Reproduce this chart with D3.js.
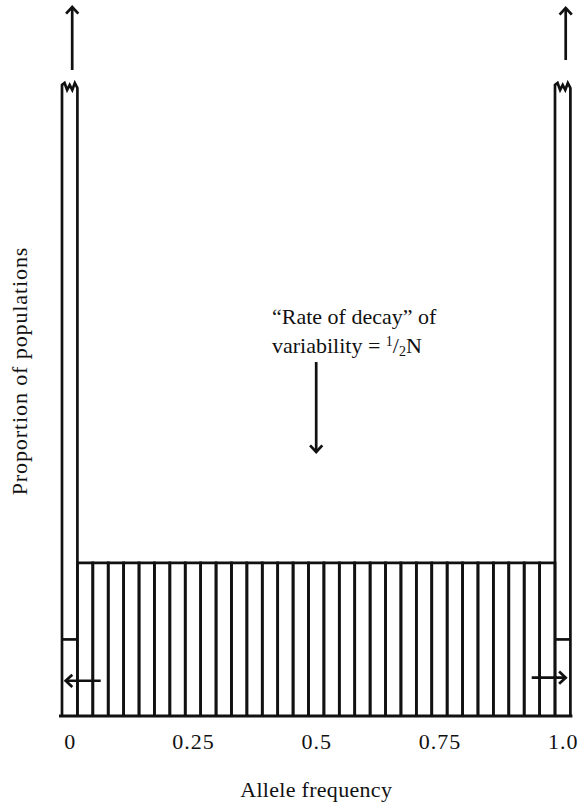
<!DOCTYPE html>
<html>
<head>
<meta charset="utf-8">
<script src="https://cdn.jsdelivr.net/npm/d3@7"></script>
<style>
  html, body { margin: 0; padding: 0; background: #fff; }
</style>
</head>
<body>
<div id="chart"></div>
<script>
// allele frequency classes i/32, i = 0..32
const freqClasses = [0, 1, 2, 3, 4, 5, 6, 7, 8, 9, 10, 11, 12, 13, 14, 15, 16,
  17, 18, 19, 20, 21, 22, 23, 24, 25, 26, 27, 28, 29, 30, 31, 32];
// proportion of populations (relative units); the end classes are broken off
const proportions = [4.12, 1, 1, 1, 1, 1, 1, 1, 1, 1, 1, 1, 1, 1, 1, 1, 1,
  1, 1, 1, 1, 1, 1, 1, 1, 1, 1, 1, 1, 1, 1, 1, 4.12];
const brokenClasses = [0, 32];
// share of the end classes newly fixed / lost each generation
const endShare = [0.5, 0.5];
const tickValues = [0, 0.25, 0.5, 0.75, 1];
const tickLabels = ["0", "0.25", "0.5", "0.75", "1.0"];

const W = 581, H = 809;
const N = 32;
const FONT = "'Liberation Serif', 'Times New Roman', serif";

const svg = d3.select('#chart').append('svg')
  .attr('width', W).attr('height', H)
  .attr('viewBox', [0, 0, W, H])
  .style('font-family', FONT);

svg.append('rect').attr('width', W).attr('height', H).attr('fill', '#fff');

const x = d3.scaleLinear().domain([0, 1]).range([69.7, 562.7]);
const y = d3.scaleLinear().domain([0, 4.12]).range([716, 85]);
const bw = x(1 / N) - x(0);

const ink = '#111';
const g = svg.append('g').attr('fill', 'none').attr('stroke', ink)
  .attr('stroke-width', 2.7).attr('stroke-linejoin', 'miter');

// bars: open boxes (sides + top), broken top for the end classes
freqClasses.forEach((c, i) => {
  const x0 = x(c / N) - bw / 2, x1 = x(c / N) + bw / 2;
  const top = y(proportions[i]);
  const p = d3.path();
  p.moveTo(x0, y(0));
  p.lineTo(x0, top);
  if (brokenClasses.includes(c)) {
    const s = (x1 - x0) / 6;
    p.lineTo(x0 + s, top - 2);
    p.lineTo(x0 + 2 * s, top + 5);
    p.lineTo(x0 + 3 * s, top);
    p.lineTo(x0 + 4 * s, top + 5);
    p.lineTo(x0 + 5 * s, top - 2);
    p.lineTo(x1, top + 3);
  } else {
    p.lineTo(x1, top);
  }
  p.lineTo(x1, y(0));
  g.append('path').attr('d', p.toString());
});

// baseline
g.append('line')
  .attr('x1', x(0) - bw / 2 - 3).attr('x2', x(1) + bw / 2 + 2)
  .attr('y1', y(0)).attr('y2', y(0)).attr('stroke-width', 3);

// divider inside the end classes
brokenClasses.forEach((c, k) => {
  g.append('line')
    .attr('x1', x(c / N) - bw / 2).attr('x2', x(c / N) + bw / 2)
    .attr('y1', y(endShare[k])).attr('y2', y(endShare[k]));
});

function arrow(xa, ya, xb, yb) {
  // line from (xa,ya) to tip (xb,yb) with an open V head
  g.append('line').attr('x1', xa).attr('y1', ya).attr('x2', xb).attr('y2', yb);
  const ang = Math.atan2(yb - ya, xb - xa);
  const L = 9, a = Math.PI / 4.2;
  const p = d3.path();
  p.moveTo(xb - L * Math.cos(ang - a), yb - L * Math.sin(ang - a));
  p.lineTo(xb, yb);
  p.lineTo(xb - L * Math.cos(ang + a), yb - L * Math.sin(ang + a));
  g.append('path').attr('d', p.toString());
}

// outward arrows in the end classes
arrow(x(0) + 31, y(0.23), x(0) - 4, y(0.23));
arrow(x(1) - 31, y(0.25), x(1) + 3, y(0.25));

// upward arrows above the broken bars
arrow(x(0) + 2.5, y(4.12) - 15, x(0) + 2.5, 7);
arrow(x(1) + 3, y(4.12) - 25, x(1) + 3, 8);

// central arrow
arrow(x(0.5), 362, x(0.5), 452);

// annotation
const ann = svg.append('g').attr('font-size', 22).attr('font-family', FONT).attr('fill', ink);
ann.append('text').attr('x', 272).attr('y', 324)
  .text('\u201CRate of decay\u201D of');
const t2 = ann.append('text').attr('x', 272).attr('y', 353);
t2.append('tspan').text('variability = ');
t2.append('tspan').attr('font-size', 14).attr('dy', -7).text('1');
t2.append('tspan').attr('font-size', 22).attr('dy', 7).text('/');
t2.append('tspan').attr('font-size', 14).attr('dy', 3).text('2');
t2.append('tspan').attr('font-size', 22).attr('dy', -3).text('N');

// x axis labels
const axis = d3.axisBottom(x).tickValues(tickValues).tickSize(0).tickPadding(0)
  .tickFormat((d, i) => tickLabels[i]);
const ax = svg.append('g').attr('transform', `translate(0, 733)`).call(axis)
  .attr('font-family', FONT).attr('font-size', 22);
ax.select('.domain').remove();
ax.selectAll('text').attr('fill', ink).attr('letter-spacing', 1)
  .attr('dy', '0.71em');

svg.append('text').attr('x', x(0.5)).attr('y', 797).attr('text-anchor', 'middle')
  .attr('font-family', FONT).attr('fill', ink)
  .attr('font-size', 22).attr('letter-spacing', 0.3).text('Allele frequency');

svg.append('text').attr('transform', 'translate(27, 371) rotate(-90)')
  .attr('font-family', FONT).attr('fill', ink)
  .attr('text-anchor', 'middle').attr('font-size', 22).attr('letter-spacing', 0.9)
  .text('Proportion of populations');
</script>
</body>
</html>
